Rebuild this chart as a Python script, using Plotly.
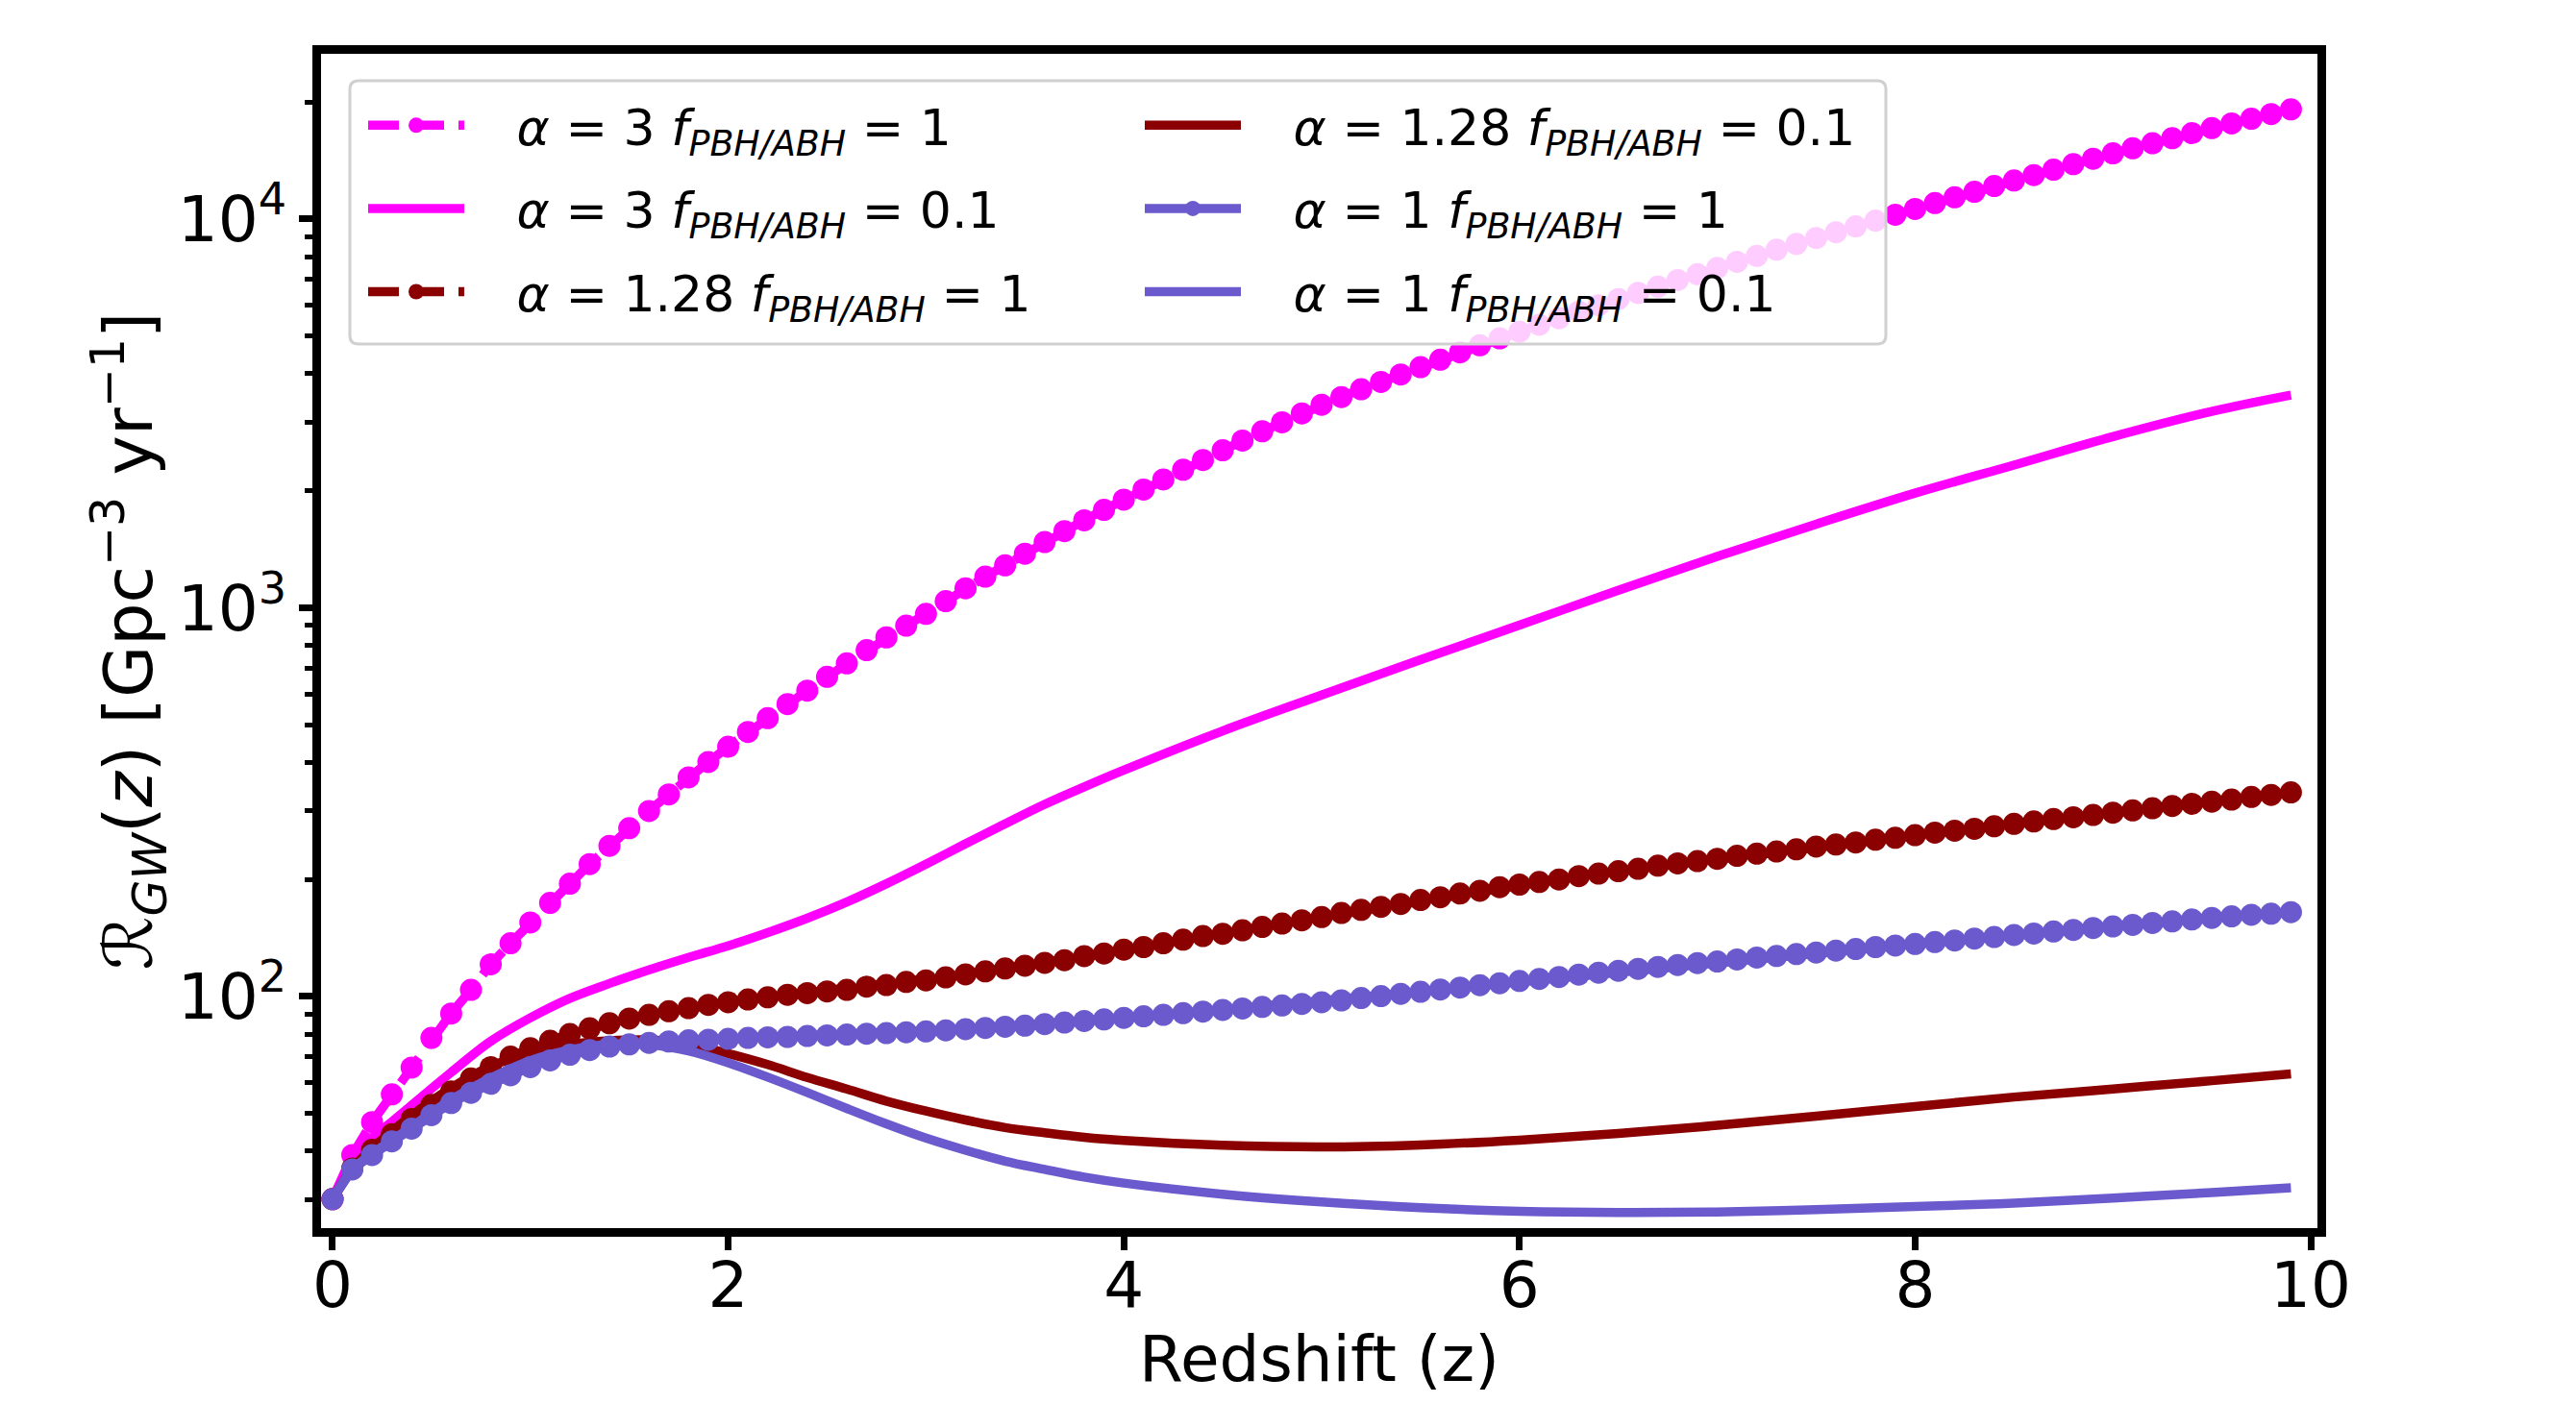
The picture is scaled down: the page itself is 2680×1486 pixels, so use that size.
import plotly.graph_objects as go

# redshift grid of the marker curves (step 0.1) and of the smooth curves
z_dots = [round(0.1 * i, 1) for i in range(100)]
z_solid = [0, 0.1, 0.2, 0.3, 0.4, 0.5, 0.6, 0.8, 1.0, 1.2, 1.4, 1.6, 1.8, 2.0, 2.2, 2.4,
           2.6, 2.8, 3.0, 3.2, 3.4, 3.6, 3.8, 4.0, 4.5, 5.0, 5.5, 6.0, 6.5, 7.0, 7.5, 8.0,
           8.5, 9.0, 9.5, 9.9]

# alpha = 3, f = 1
rate_a3_f1 = [30.1, 39.1, 47.5, 56.0, 65.6, 78.2, 90.4, 104, 121, 137,
              155, 174, 195, 219, 244, 271, 300, 331, 366, 401,
              439, 479, 520, 565, 612, 664, 719, 778, 839, 899,
              964, 1040, 1122, 1202, 1285, 1377, 1476, 1574, 1679, 1786,
              1897, 2014, 2138, 2265, 2399, 2541, 2692, 2844, 3000, 3162,
              3327, 3483, 3648, 3811, 3981, 4159, 4345, 4539, 4732, 4932,
              5129, 5346, 5559, 5781, 5998, 6223, 6457, 6699, 6966, 7211,
              7482, 7762, 8035, 8337, 8630, 8933, 9247, 9572, 9908, 10257,
              10617, 10990, 11376, 11749, 12162, 12560, 12972, 13397, 13836, 14289,
              14757, 15205, 15668, 16144, 16634, 17140, 17620, 18113, 18621, 19143]

# alpha = 1.28, f = 1
rate_a128_f1 = [30.1, 36.1, 40.3, 44.2, 48.4, 52.6, 57.0, 61.5, 65.8, 70.0,
                73.6, 76.9, 80.0, 82.8, 85.3, 87.7, 89.7, 91.6, 93.3, 95.1,
                96.6, 98.2, 99.5, 101, 102, 103, 104, 106, 107, 109,
                110, 112, 114, 116, 118, 120, 122, 124, 127, 129,
                132, 134, 137, 140, 143, 145, 148, 151, 154, 157,
                160, 164, 167, 170, 173, 177, 180, 184, 187, 191,
                194, 197, 200, 204, 207, 210, 213, 217, 220, 223,
                226, 230, 233, 236, 239, 243, 246, 249, 253, 256,
                260, 264, 267, 270, 274, 278, 282, 286, 289, 293,
                297, 301, 305, 309, 313, 317, 321, 326, 330, 335]

# alpha = 1, f = 1
rate_a1_f1 = [30.1, 35.9, 39.1, 42.4, 45.7, 49.5, 53.2, 56.5, 59.6, 62.7,
              65.8, 68.5, 70.8, 72.8, 74.3, 75.3, 76.0, 76.6, 77.1, 77.4,
              77.8, 78.2, 78.5, 78.7, 79.1, 79.4, 79.8, 80.2, 80.5, 80.9,
              81.3, 81.8, 82.4, 83.0, 83.6, 84.1, 84.9, 85.7, 86.5, 87.3,
              88.1, 88.9, 89.7, 90.6, 91.4, 92.3, 93.1, 94.0, 94.8, 95.7,
              96.6, 97.7, 99.1, 100.2, 101.6, 102.8, 104.2, 105.4, 106.9, 108.1,
              109.6, 110.9, 112.2, 113.8, 115.1, 116.4, 117.8, 119.1, 120.5, 121.9,
              123.0, 124.5, 125.9, 127.1, 128.5, 129.7, 131.2, 132.4, 134.0, 135.2,
              136.5, 138.0, 139.3, 140.9, 142.2, 143.9, 145.2, 146.9, 148.3, 150.0,
              151.4, 152.8, 154.5, 156.0, 157.8, 159.2, 160.7, 162.2, 163.3, 164.8]

# f = 0.1 curves on z_solid
rate_a3_f01 = [30.1, 37.6, 43.2, 47.6, 52.5, 57.9, 63.8, 76.7, 88.1, 98.9, 108, 117, 126,
               135, 146, 159, 175, 195, 219, 247, 278, 312, 346, 382, 482, 596, 735, 902,
               1109, 1355, 1641, 1972, 2328, 2754, 3199, 3524]
rate_a128_f01 = [30.1, 36.1, 40.7, 45.0, 49.5, 53.8, 58.2, 66.1, 71.6, 75.2, 76.9, 77.3,
                 75.5, 71.3, 66.8, 61.9, 57.8, 53.8, 50.7, 48.1, 46.0, 44.6, 43.4, 42.6,
                 41.4, 41.0, 41.5, 42.7, 44.4, 46.6, 49.2, 52.1, 55.1, 57.8, 60.7, 63.2]
rate_a1_f01 = [30.1, 35.9, 39.4, 42.7, 46.2, 50.2, 54.3, 61.7, 68.4, 72.8, 75.3, 75.2,
               72.4, 67.5, 62.0, 56.6, 51.5, 47.0, 43.2, 40.2, 37.7, 35.9, 34.3, 33.1,
               31.0, 29.6, 28.6, 28.0, 27.8, 27.9, 28.3, 28.8, 29.4, 30.3, 31.3, 32.2]

y_major = [100, 1000, 10000]
y_major_text = ["10<sup>2</sup>", "10<sup>3</sup>", "10<sup>4</sup>"]
y_minor = [30, 40, 50, 60, 70, 80, 90, 200, 300, 400, 500, 600, 700, 800, 900,
           2000, 3000, 4000, 5000, 6000, 7000, 8000, 9000, 20000]

MAGENTA = "#FF00FF"
DARKRED = "#8B0000"
SLATE = "#6A5ACD"
FONT = "DejaVu Sans"
LW = 9.5
MS = 23
DASH = "32px,15px"
PAD = "\u00a0\u00a0\u00a0"


def label(alpha, f):
    return f"{PAD}<i>α</i> = {alpha} <i>f</i><sub><i>PBH/ABH</i></sub> = {f}"


fig = go.Figure()

series = [
    (z_dots, rate_a3_f1, MAGENTA, DASH, True, label(3, 1), "legend"),
    (z_solid, rate_a3_f01, MAGENTA, "solid", False, label(3, 0.1), "legend"),
    (z_dots, rate_a128_f1, DARKRED, DASH, True, label(1.28, 1), "legend"),
    (z_solid, rate_a128_f01, DARKRED, "solid", False, label(1.28, 0.1), "legend2"),
    (z_dots, rate_a1_f1, SLATE, "solid", True, label(1, 1), "legend2"),
    (z_solid, rate_a1_f01, SLATE, "solid", False, label(1, 0.1), "legend2"),
]

for i, (zz, rr, col, dash, dots, name, leg) in enumerate(series):
    fig.add_trace(go.Scatter(
        x=zz, y=rr,
        mode="lines+markers" if dots else "lines",
        line=dict(color=col, width=LW, dash=dash, shape="linear" if dots else "spline"),
        marker=dict(size=MS, color=col),
        name=name, legend=leg, legendgroup=f"g{i}",
    ))

# page is offset by the 8px body margin; plot area spans 334..2411 x 56..1278 on the page
W, H = 2672, 1478
L, R, T, B = 326, 269, 48, 208
OFF = 8
pw, ph = W - L - R, H - T - B


def px_x(v):
    return (v - L - OFF) / pw


def px_y(v):
    return 1 - (v - T - OFF) / ph


x0, x1, y0, y1 = px_x(364), px_x(1962), px_y(84), px_y(358)
rx, ry = 9 / pw, 9 / ph
frame = (f"M {x0 + rx},{y0} L {x1 - rx},{y0} Q {x1},{y0} {x1},{y0 - ry} "
         f"L {x1},{y1 + ry} Q {x1},{y1} {x1 - rx},{y1} L {x0 + rx},{y1} "
         f"Q {x0},{y1} {x0},{y1 + ry} L {x0},{y0 - ry} Q {x0},{y0} {x0 + rx},{y0} Z")
fig.add_shape(type="path", path=frame, xref="paper", yref="paper", layer="above",
              line=dict(color="#d0d0d0", width=3), fillcolor="rgba(255,255,255,0.8)")

legend_common = dict(
    bgcolor="rgba(0,0,0,0)", borderwidth=0, font=dict(family=FONT, size=52, color="black"),
    yanchor="top", xanchor="left", tracegroupgap=16, itemwidth=100,
)

fig.update_layout(
    width=W, height=H,
    margin=dict(l=L, r=R, t=T, b=B),
    plot_bgcolor="white", paper_bgcolor="white",
    font=dict(family=FONT, size=66, color="black"),
    showlegend=True,
    legend=dict(x=px_x(378), y=px_y(90), **legend_common),
    legend2=dict(x=px_x(1186), y=px_y(90), **legend_common),
    xaxis=dict(
        range=[-0.058, 10.034], tickvals=[0, 2, 4, 6, 8, 10],
        showgrid=False, zeroline=False,
        showline=True, linecolor="black", linewidth=8.5, mirror=True,
        ticks="outside", ticklen=14, tickwidth=6.5, tickcolor="black",
        tickfont=dict(family=FONT, size=66), ticklabelstandoff=-20,
        title=dict(text="Redshift (z)", font=dict(family=FONT, size=66), standoff=18),
    ),
    yaxis=dict(
        type="log", range=[1.404, 4.425],
        tickvals=y_major, ticktext=y_major_text,
        showgrid=False, zeroline=False,
        showline=True, linecolor="black", linewidth=8.5, mirror=True,
        ticks="outside", ticklen=14, tickwidth=6.5, tickcolor="black",
        tickfont=dict(family=FONT, size=66),
        minor=dict(tickvals=y_minor, ticks="outside", ticklen=8, tickwidth=4.5,
                   tickcolor="black", showgrid=False),
        title=dict(text="ℛ<sub><i>GW</i></sub>(<i>z</i>) [Gpc<sup>−3</sup> yr<sup>−1</sup>]",
                   font=dict(family=FONT, size=70), standoff=4),
    ),
    yaxis2=dict(
        type="log", range=[1.404, 4.425], overlaying="y", side="right", anchor="x",
        tickvals=y_major, showticklabels=False, showgrid=False, zeroline=False,
        showline=False, ticks="outside", ticklen=14, tickwidth=6.5, tickcolor="black",
    ),
)

fig.write_html("out.html")
